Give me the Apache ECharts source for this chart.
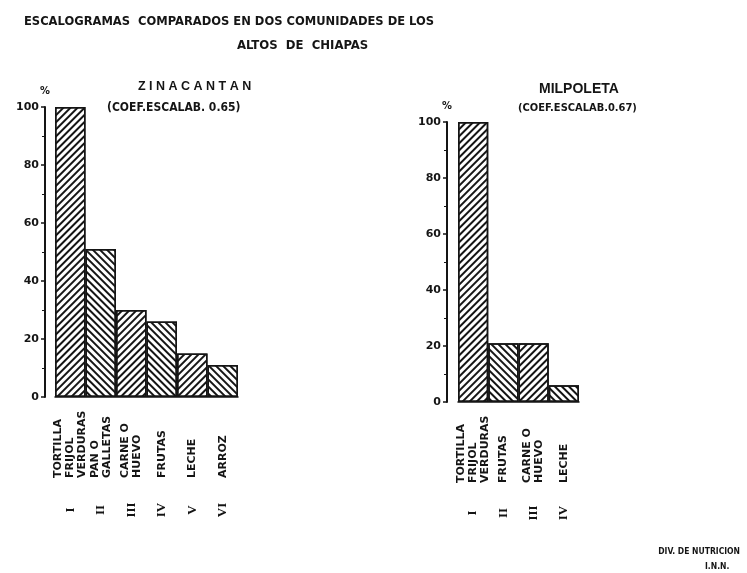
<!DOCTYPE html>
<html>
<head>
<meta charset="utf-8">
<script src="https://cdn.jsdelivr.net/npm/echarts@6/dist/echarts.min.js"></script>
<style>
  html, body { margin: 0; padding: 0; background: #fff; }
  #chart { width: 747px; height: 573px; }
</style>
</head>
<body>
<div id="chart"></div>
<script>
const zinCats = ['TORTILLA\nFRIJOL\nVERDURAS', 'PAN O\nGALLETAS', 'CARNE O\nHUEVO', 'FRUTAS', 'LECHE', 'ARROZ'];
const zinValues = [100, 51, 30, 26, 15, 11];
const zinNumerals = ['I', 'II', 'III', 'IV', 'V', 'VI'];

const milCats = ['TORTILLA\nFRIJOL\nVERDURAS', 'FRUTAS', 'CARNE O\nHUEVO', 'LECHE'];
const milValues = [100, 21, 21, 6];
const milNumerals = ['I', 'II', 'III', 'IV'];

const yMin = 0, yMax = 100, yStep = 20;

const INK = '#151515';
const NARROW = '"Liberation Sans Narrow", "DejaVu Sans Condensed", sans-serif';

// rayado de las barras
const hatchFwd = { symbol: 'rect', symbolSize: 1, dashArrayX: [1, 0], dashArrayY: [1.6, 2.6], rotation: -Math.PI / 4, color: INK };
const hatchBack = { symbol: 'rect', symbolSize: 1, dashArrayX: [1, 0], dashArrayY: [1.6, 2.6], rotation: Math.PI / 4, color: INK };

function barData(values) {
  return values.map((v, i) => ({ value: v, itemStyle: { decal: i % 2 ? hatchBack : hatchFwd } }));
}

function yAxisFor(grid, offset) {
  return {
    type: 'value', gridIndex: grid, min: yMin, max: yMax, interval: yStep, offset: offset,
    name: '%', nameLocation: 'end', nameGap: 10,
    nameTextStyle: { color: INK, fontSize: 11, fontWeight: 'bold', fontFamily: NARROW, align: 'center' },
    axisLine: { show: true, lineStyle: { color: INK, width: 2 } },
    axisTick: { show: true, length: 4, lineStyle: { color: INK, width: 1.5 } },
    minorTick: { show: true, splitNumber: 2, length: 3, lineStyle: { color: INK } },
    splitLine: { show: false },
    axisLabel: { color: INK, fontSize: 11, fontWeight: 'bold', fontFamily: 'DejaVu Sans', margin: 6 }
  };
}

function catAxis(grid, cats, margin) {
  return {
    type: 'category', gridIndex: grid, data: cats, position: 'bottom',
    axisLine: { show: true, lineStyle: { color: INK, width: 1.5 } },
    axisTick: { show: false },
    axisLabel: {
      interval: 0, rotate: 90, align: 'left', verticalAlign: 'middle', margin: margin,
      color: INK, fontSize: 11, lineHeight: 12, fontWeight: 'bold', fontFamily: 'DejaVu Sans'
    }
  };
}

function numAxis(grid, nums, margin) {
  return {
    type: 'category', gridIndex: grid, data: nums, position: 'bottom',
    axisLine: { show: false }, axisTick: { show: false },
    axisLabel: {
      interval: 0, rotate: 90, align: 'center', verticalAlign: 'middle', margin: margin,
      color: INK, fontSize: 13, fontWeight: 'bold', fontFamily: '"Liberation Serif", "DejaVu Serif", serif'
    }
  };
}

function barSeries(xi, yi, values) {
  return {
    type: 'bar', xAxisIndex: xi, yAxisIndex: yi, data: barData(values),
    barCategoryGap: '0%',
    itemStyle: { color: '#fff', borderColor: INK, borderWidth: 1.5 },
    silent: true
  };
}

const chart = echarts.init(document.getElementById('chart'));
chart.setOption({
  backgroundColor: '#fff',
  animation: false,
  title: [
    { text: 'ESCALOGRAMAS  COMPARADOS EN DOS COMUNIDADES DE LOS', left: 19, top: 10,
      textStyle: { color: INK, fontSize: 12.8, fontWeight: 'bold', fontFamily: NARROW } },
    { text: 'ALTOS  DE  CHIAPAS', left: 232, top: 34,
      textStyle: { color: INK, fontSize: 13, fontWeight: 'bold', fontFamily: NARROW } },
    { text: 'Z I N A C A N T A N', left: 133, top: 75,
      textStyle: { color: INK, fontSize: 12.5, fontWeight: 'bold', fontFamily: '"Liberation Sans", Arial, sans-serif' } },
    { text: '(COEF.ESCALAB. 0.65)', left: 102, top: 97,
      textStyle: { color: INK, fontSize: 12, fontWeight: 'bold', fontFamily: NARROW } },
    { text: 'MILPOLETA', left: 534, top: 77,
      textStyle: { color: INK, fontSize: 14, fontWeight: 'bold', fontFamily: '"Liberation Sans", Arial, sans-serif' } },
    { text: '(COEF.ESCALAB.0.67)', left: 513, top: 98,
      textStyle: { color: INK, fontSize: 11, fontWeight: 'bold', fontFamily: NARROW } },
    { text: 'DIV. DE NUTRICION', right: 2, top: 542,
      textStyle: { color: INK, fontSize: 8.5, fontWeight: 'bold', fontFamily: NARROW } },
    { text: 'I.N.N.', left: 700, top: 557,
      textStyle: { color: INK, fontSize: 8.5, fontWeight: 'bold', fontFamily: NARROW } }
  ],
  grid: [
    { left: 55, top: 107, width: 183, height: 290 },
    { left: 458, top: 122, width: 121, height: 280 }
  ],
  xAxis: [
    catAxis(0, zinCats, 81),
    numAxis(0, zinNumerals, 113),
    catAxis(1, milCats, 81),
    numAxis(1, milNumerals, 111)
  ],
  yAxis: [
    yAxisFor(0, 10),
    yAxisFor(1, 11)
  ],
  series: [
    barSeries(0, 0, zinValues),
    barSeries(2, 1, milValues)
  ]
});
</script>
</body>
</html>
